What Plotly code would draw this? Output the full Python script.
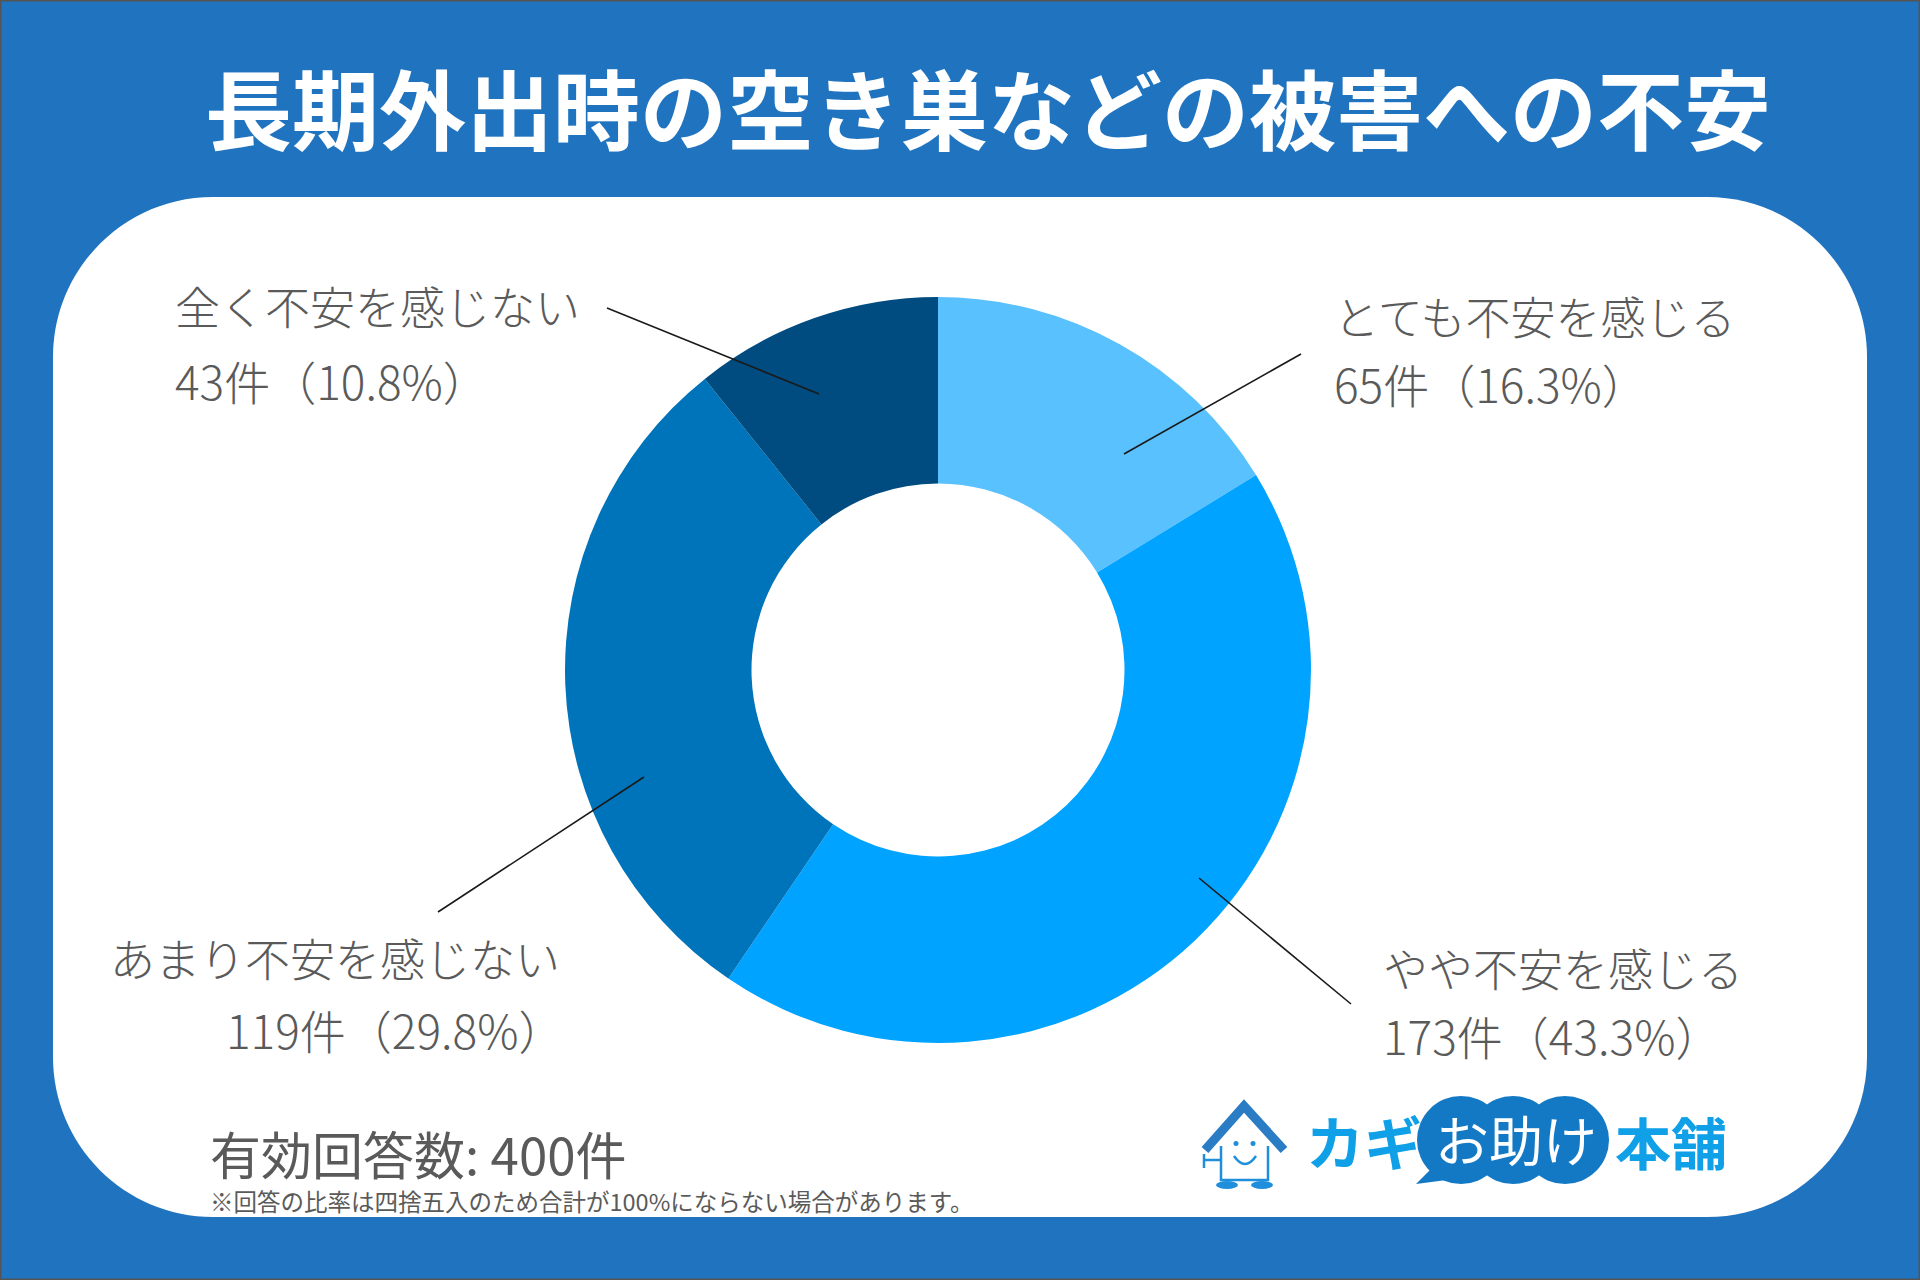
import plotly.graph_objects as go

W, H = 1920, 1280

title = "長期外出時の空き巣などの被害への不安"
categories = ["とても不安を感じる", "やや不安を感じる", "あまり不安を感じない", "全く不安を感じない"]
counts = [65, 173, 119, 43]
percents = [16.3, 43.3, 29.8, 10.8]
colors = ["#5AC1FF", "#00A3FF", "#0074BA", "#004B7F"]
total = 400
note = "※回答の比率は四捨五入のため合計が100%にならない場合があります。"

FONT = "Noto Sans CJK JP"
TEXT_GRAY = "#5a5a5a"
BG_BLUE = "#1F73BF"

# label placement in pixels: (x line1, y line1, x line2, y line2)
label_xy = [
    (1332, 316, 1332, 383),
    (1381, 967, 1381, 1035),
    (108, 957, 224, 1029),
    (173, 305, 173, 380),
]
# leader line ends (outer, inner) in pixels
leaders = [
    ((1301, 354), (1124, 454)),
    ((1351, 1004), (1199, 878)),
    ((438, 912), (644, 777)),
    ((607, 308), (819, 394)),
]


def px(x):
    return x / W


def py(y):
    return 1 - y / H


def rounded_path(x0, y0, x1, y1, r):
    k = 0.5523 * r
    p = lambda x, y: f"{px(x):.5f},{py(y):.5f}"
    return (
        f"M {p(x0 + r, y0)} L {p(x1 - r, y0)} "
        f"C {p(x1 - r + k, y0)} {p(x1, y0 + r - k)} {p(x1, y0 + r)} "
        f"L {p(x1, y1 - r)} "
        f"C {p(x1, y1 - r + k)} {p(x1 - r + k, y1)} {p(x1 - r, y1)} "
        f"L {p(x0 + r, y1)} "
        f"C {p(x0 + r - k, y1)} {p(x0, y1 - r + k)} {p(x0, y1 - r)} "
        f"L {p(x0, y0 + r)} "
        f"C {p(x0, y0 + r - k)} {p(x0 + r - k, y0)} {p(x0 + r, y0)} Z"
    )


# donut centre and radius (pixels)
cx, cy, R = 938, 670, 373

fig = go.Figure(go.Pie(
    labels=categories,
    values=counts,
    sort=False,
    direction="clockwise",
    rotation=0,
    hole=0.5,
    marker=dict(colors=colors, line=dict(width=0)),
    textinfo="none",
    hoverinfo="label+value",
    showlegend=False,
    domain=dict(x=[px(cx - R), px(cx + R)], y=[py(cy + R), py(cy - R)]),
))

shapes = [
    dict(type="path", xref="paper", yref="paper", layer="below",
         path=rounded_path(53, 197, 1867, 1217, 160),
         fillcolor="white", line=dict(width=0)),
    dict(type="rect", xref="paper", yref="paper", x0=0, x1=1, y0=0, y1=1,
         line=dict(color="#555555", width=3)),
]
for (o, i) in leaders:
    shapes.append(dict(type="line", xref="paper", yref="paper",
                       x0=px(o[0]), y0=py(o[1]), x1=px(i[0]), y1=py(i[1]),
                       line=dict(color="#1a1a1a", width=1.6)))

annotations = [
    dict(text=title, x=px(988), y=py(106), xref="paper", yref="paper",
         showarrow=False, xanchor="center", yanchor="middle",
         font=dict(family=FONT, size=87, color="white", weight=700)),
    dict(text=f"有効回答数: {total}件", x=px(208), y=py(1153), xref="paper", yref="paper",
         showarrow=False, xanchor="left", yanchor="middle",
         font=dict(family=FONT, size=51, color=TEXT_GRAY)),
    dict(text=note, x=px(208), y=py(1201), xref="paper", yref="paper",
         showarrow=False, xanchor="left", yanchor="middle",
         font=dict(family=FONT, size=23.5, color=TEXT_GRAY)),
]
for cat, n, pct, (x1, y1, x2, y2) in zip(categories, counts, percents, label_xy):
    annotations.append(dict(text=cat, x=px(x1), y=py(y1), xref="paper", yref="paper",
                            showarrow=False, xanchor="left", yanchor="middle",
                            font=dict(family=FONT, size=45, color=TEXT_GRAY, weight=300)))
    annotations.append(dict(text=f"{n}件（{pct}%）", x=px(x2), y=py(y2), xref="paper", yref="paper",
                            showarrow=False, xanchor="left", yanchor="middle",
                            font=dict(family=FONT, size=46, color=TEXT_GRAY, weight=300)))

# logo: house mascot + speech bubble
LOGO_DARK = "#1479C5"
LOGO_LIGHT = "#10A0E8"
for bx in [1461, 1513, 1565]:
    shapes.append(dict(type="circle", xref="paper", yref="paper",
                       x0=px(bx - 44), x1=px(bx + 44), y0=py(1184), y1=py(1096),
                       fillcolor=LOGO_DARK, line=dict(width=0)))
shapes.append(dict(type="path", xref="paper", yref="paper",
                   path=f"M {px(1440)},{py(1160)} L {px(1416)},{py(1184)} L {px(1462)},{py(1178)} Z",
                   fillcolor=LOGO_DARK, line=dict(width=0)))
# roof
shapes.append(dict(type="path", xref="paper", yref="paper",
                   path=f"M {px(1205)},{py(1150)} L {px(1244)},{py(1106)} L {px(1284)},{py(1150)}",
                   line=dict(color="#2a7cc4", width=9)))
# body
shapes.append(dict(type="path", xref="paper", yref="paper",
                   path=(f"M {px(1221)},{py(1146)} L {px(1221)},{py(1180)} L {px(1268)},{py(1180)} "
                         f"L {px(1268)},{py(1146)}"),
                   line=dict(color="#1f8fdc", width=2.5)))
for ex in [1236, 1253]:
    shapes.append(dict(type="circle", xref="paper", yref="paper",
                       x0=px(ex - 2.5), x1=px(ex + 2.5), y0=py(1146), y1=py(1141),
                       fillcolor="#1f8fdc", line=dict(width=0)))
shapes.append(dict(type="path", xref="paper", yref="paper",
                   path=f"M {px(1234)},{py(1156)} Q {px(1245)},{py(1172)} {px(1256)},{py(1156)}",
                   line=dict(color="#1f8fdc", width=2.5)))
for fx in [1227, 1262]:
    shapes.append(dict(type="circle", xref="paper", yref="paper",
                       x0=px(fx - 11), x1=px(fx + 11), y0=py(1189), y1=py(1181),
                       fillcolor="#1f8fdc", line=dict(width=0)))
shapes.append(dict(type="path", xref="paper", yref="paper",
                   path=(f"M {px(1221)},{py(1160)} L {px(1204)},{py(1160)} "
                         f"M {px(1204)},{py(1154)} L {px(1204)},{py(1168)}"),
                   line=dict(color="#1f8fdc", width=2.5)))

annotations += [
    dict(text="カギ", x=px(1304), y=py(1140), xref="paper", yref="paper",
         showarrow=False, xanchor="left", yanchor="middle",
         font=dict(family=FONT, size=58, color=LOGO_LIGHT, weight=700)),
    dict(text="お助け", x=px(1516), y=py(1138), xref="paper", yref="paper",
         showarrow=False, xanchor="center", yanchor="middle",
         font=dict(family=FONT, size=54, color="white")),
    dict(text="本舗", x=px(1613), y=py(1140), xref="paper", yref="paper",
         showarrow=False, xanchor="left", yanchor="middle",
         font=dict(family=FONT, size=56, color=LOGO_LIGHT, weight=700)),
]

fig.update_layout(
    width=W, height=H,
    margin=dict(l=0, r=0, t=0, b=0),
    paper_bgcolor=BG_BLUE,
    plot_bgcolor=BG_BLUE,
    shapes=shapes,
    annotations=annotations,
)

# drop the default page margin so the figure fills the window exactly
fig.write_html("out.html", config={"displayModeBar": False},
               post_script="document.body.style.margin='0';")
